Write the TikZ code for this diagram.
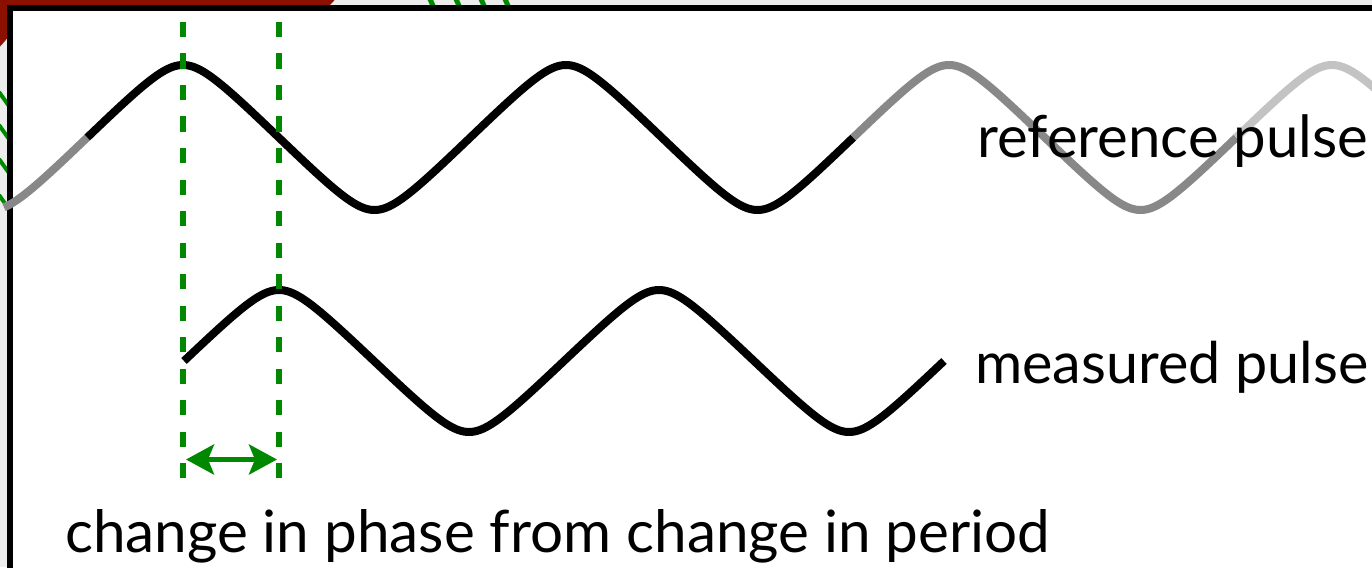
\documentclass[tikz,border=0pt]{standalone}
\usepackage{fontspec}
\setmainfont{Lato}
\usetikzlibrary{arrows.meta}
\definecolor{bggray}{RGB}{237,237,237}
\definecolor{slidered}{RGB}{140,16,0}
\definecolor{markgreen}{RGB}{0,136,0}
\definecolor{midgray}{RGB}{136,136,136}
\definecolor{lightgray2}{RGB}{195,195,195}
\tikzset{
  wave/.style={line width=8pt, line join=round, line cap=butt},
  guide/.style={markgreen, line width=6pt, dash pattern=on 15.3pt off 16.2pt},
  hatch/.style={markgreen, line width=4pt},
  label/.style={inner sep=0pt, anchor=base west},
  bigtip/.tip={Stealth[length=28pt,width=30pt,inset=6pt]},
  declare function={
    refw(\t)=137.5-72.5*asin(0.9*sin((\t-87.25)/383*360))/64.158;
    mesw(\t)=361-71*asin(0.9*sin((\t-184)/380*360))/64.158;
  }
}
\begin{document}
\begin{tikzpicture}[x=1pt,y=-1pt]
\useasboundingbox (0,0) rectangle (1372,567);
\clip (0,0) rectangle (1372,567);
% background
\fill[bggray] (0,0) rectangle (1372,567);
% red shape behind the box
\fill[slidered] (-5,-5) -- (338,-5) .. controls (334,2) and (328,8) .. (315,14)
  -- (14,14) -- (12,32) .. controls (6,40) .. (-5,52) -- cycle;
% green hatches
\foreach \yy in {100,133,167,203}
  \draw[hatch] (-1,\yy-8) -- (9,\yy+6);
\foreach \xx in {432,458,483,507}
  \draw[hatch, line width=5pt] (\xx-2,-1) -- (\xx+2,8);
% slide box
\draw[line width=6pt, fill=white] (9.5,8.5) rectangle (1400,600);
% reference pulse
\draw[wave, midgray] plot[domain=4:87.25, samples=40] (\x,{refw(\x)});
\draw[wave, black] plot[domain=87.25:853.25, samples=380] (\x,{refw(\x)});
\draw[wave, midgray] plot[domain=853.25:1236.25, samples=190] (\x,{refw(\x)});
\draw[wave, lightgray2] plot[domain=1236.25:1380, samples=80] (\x,{refw(\x)});
% measured pulse
\draw[wave, black] plot[domain=184:944, samples=380] (\x,{mesw(\x)});
% guide lines
\coordinate (g1t) at (183,22);
\coordinate (g1b) at (183,478);
\coordinate (g2t) at (279,22);
\coordinate (g2b) at (279,478);
\draw[guide] (g1t) -- (g1b);
\draw[guide] (g2t) -- (g2b);
\coordinate (a1) at (186,459.5);
\coordinate (a2) at (277,459.5);
\draw[markgreen, line width=5pt, bigtip-bigtip] (a1) -- (a2);
% labels
\node[label] (reflbl) at (977,157) {\resizebox{391pt}{!}{reference pulse}};
\node[label] (meslbl) at (975,383) {\resizebox{393pt}{!}{measured pulse}};
\node[label] (caption) at (65,552) {\resizebox{985pt}{!}{change in phase from change in period}};
\end{tikzpicture}
\end{document}
